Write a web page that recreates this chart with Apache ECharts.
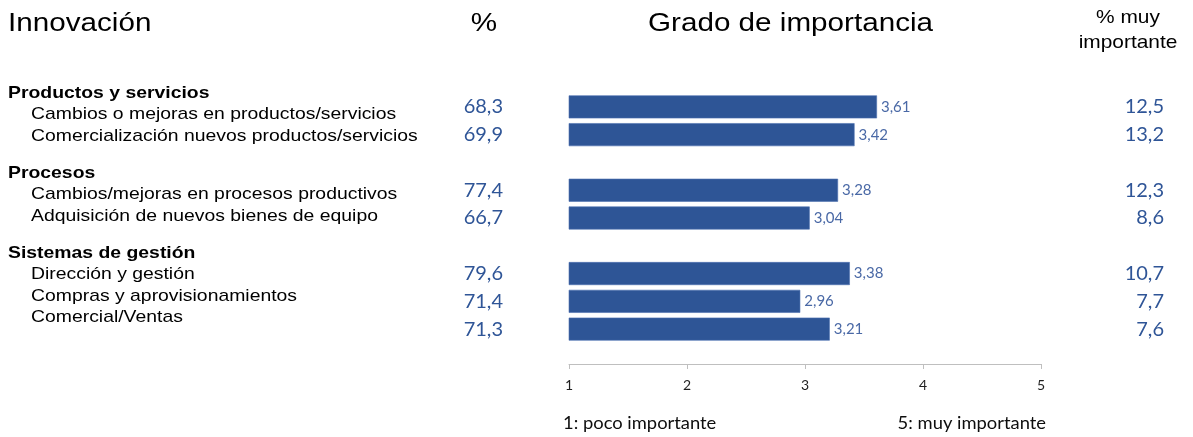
<!DOCTYPE html>
<html>
<head>
<meta charset="utf-8">
<title>Innovación - Grado de importancia</title>
<script src="https://cdn.jsdelivr.net/npm/echarts@6/dist/echarts.min.js"></script>
<style>
	html, body { margin:0; padding:0; background:#fff; }
	#myChart { width:1193px; height:437px; }
</style>
</head>
<body>
<div id="myChart"></div>

<script type='text/javascript'>
//datos del gráfico (los huecos separan los grupos)
var grupos = ['Productos y servicios', 'Procesos', 'Sistemas de gestión'];
var categorias = [
	'Cambios o mejoras en productos/servicios',
	'Comercialización nuevos productos/servicios',
	'',
	'Cambios/mejoras en procesos productivos',
	'Adquisición de nuevos bienes de equipo',
	'',
	'Dirección y gestión',
	'Compras y aprovisionamientos',
	'Comercial/Ventas'
];
var grado         = [3.61, 3.42, null, 3.28, 3.04, null, 3.38, 2.96, 3.21];
var porcentaje    = [68.3, 69.9, null, 77.4, 66.7, null, 79.6, 71.4, 71.3];
var muyImportante = [12.5, 13.2, null, 12.3, 8.6, null, 10.7, 7.7, 7.6];
var escalaMin = 1, escalaMax = 5;

var azul = '#2e5596';
var azulTexto = '#2f5597';

function coma(v, dec)
{
	if (v === null || v === undefined || v === '') return '';
	return Number(v).toFixed(dec).replace('.', ',');
}

//texto con el estilo Arial algo ensanchado del original
function texto(t, x, y, size, opt)
{
	opt = opt || {};
	return {
		type:'text',
		x:x, y:y,
		scaleX:opt.scaleX || 1.14,
		silent:true,
		style:{
			text:t,
			x:0, y:0,
			fontFamily:opt.family || '"Liberation Sans", Arial, sans-serif',
			fontSize:size,
			fontWeight:opt.bold ? 'bold' : 'normal',
			fill:opt.color || '#000',
			align:opt.align || 'left',
			verticalAlign:'middle'
		}
	};
}

//bloque de etiquetas de la izquierda
var graficos = [];
var lineaY = 93, paso = 21.5, saltoGrupo = 15.5, g = 0, nuevoGrupo = true;
for (var i = 0; i < categorias.length; i++)
{
	if (categorias[i] === '')
	{
		lineaY += saltoGrupo;
		nuevoGrupo = true;
		continue;
	}
	if (nuevoGrupo)
	{
		graficos.push(texto(grupos[g++], 8, lineaY, 17, {bold:true}));
		lineaY += paso;
		nuevoGrupo = false;
	}
	graficos.push(texto(categorias[i], 31, lineaY, 17));
	lineaY += paso;
}

//cabeceras
graficos.push(texto('Innovación', 8, 24, 26));
graficos.push(texto('%', 484, 24, 26, {align:'center'}));
graficos.push(texto('Grado de importancia', 648, 24, 26));
graficos.push(texto('% muy', 1128, 18, 19, {align:'center', scaleX:1.1}));
graficos.push(texto('importante', 1128, 43, 19, {align:'center', scaleX:1.1}));

//notas de la escala
graficos.push(texto(escalaMin + ': poco importante', 563, 424, 17, {family:'Lato, sans-serif', color:'#0d0d0d', scaleX:1.08}));
graficos.push(texto(escalaMax + ': muy importante', 1046, 424, 17, {family:'Lato, sans-serif', color:'#0d0d0d', scaleX:1.08, align:'right'}));

var etiquetaValor = {
	color:azulTexto,
	fontFamily:'Lato, sans-serif',
	fontSize:20
};

var option = {
	animation:false,
	grid:
	{
		left:569,
		right:152,
		top:93,
		bottom:94
	},
	xAxis:
	{
		type:'value',
		min:escalaMin,
		max:escalaMax,
		interval:1,
		offset:21,
		splitLine:{show:false},
		axisLine:{show:true, lineStyle:{color:'#bfbfbf', width:1}},
		axisTick:{show:true, length:5, lineStyle:{color:'#bfbfbf'}},
		axisLabel:{color:'#1f1f1f', fontFamily:'Lato, sans-serif', fontSize:14, margin:14}
	},
	yAxis:
	[
		{
			type:'category',
			data:categorias,
			inverse:true,
			axisLine:{show:false},
			axisTick:{show:false},
			axisLabel:{show:false}
		},
		{
			type:'category',
			data:porcentaje.map(function(v){ return coma(v, 1); }),
			inverse:true,
			position:'left',
			offset:58,
			axisLine:{show:false},
			axisTick:{show:false},
			axisLabel:Object.assign({margin:8}, etiquetaValor)
		},
		{
			type:'category',
			data:muyImportante.map(function(v){ return coma(v, 1); }),
			inverse:true,
			position:'right',
			offset:115,
			axisLine:{show:false},
			axisTick:{show:false},
			axisLabel:Object.assign({margin:8, align:'right'}, etiquetaValor)
		}
	],
	series:
	[
		{
			name:'Grado de importancia',
			type:'bar',
			yAxisIndex:0,
			data:grado,
			barWidth:23,
			itemStyle:{color:azul, borderColor:'#4d70b0', borderWidth:0.6},
			label:
			{
				show:true,
				position:'right',
				distance:4,
				color:'#4a69a6',
				fontFamily:'Lato, sans-serif',
				fontSize:15,
				formatter:function(p){ return coma(p.value, 2); }
			}
		}
	],
	graphic:graficos
};
echarts.init(document.getElementById('myChart')).setOption(option);
</script>
</body>
</html>
